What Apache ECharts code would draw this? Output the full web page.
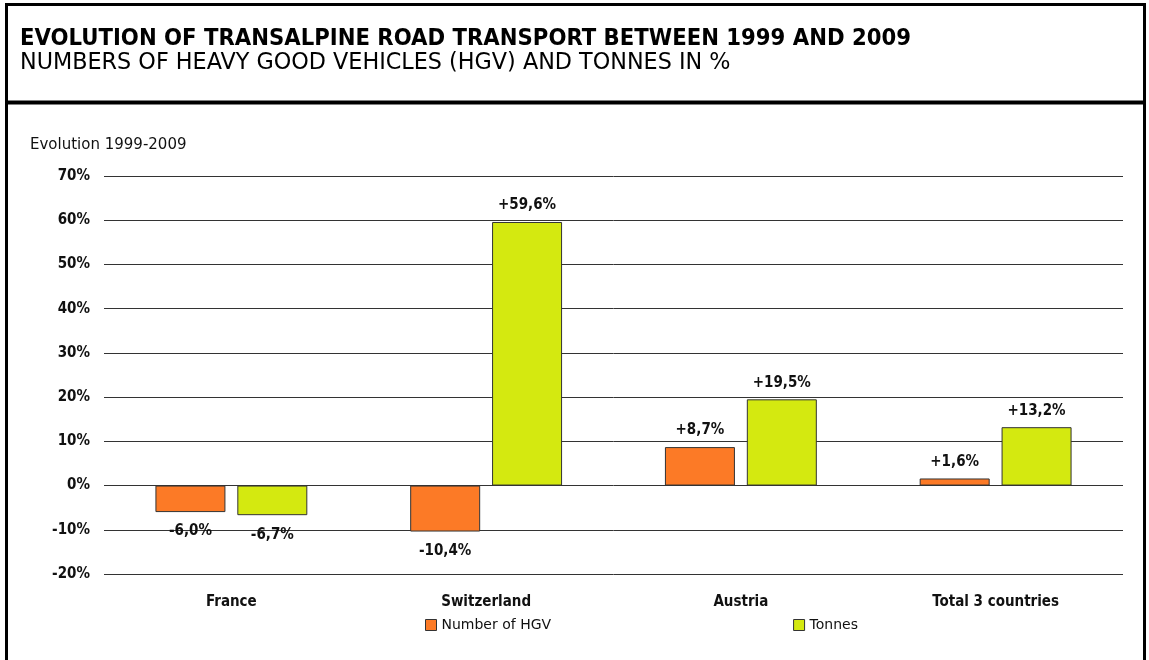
<!DOCTYPE html>
<html>
<head>
<meta charset="utf-8">
<script src="https://cdn.jsdelivr.net/npm/echarts@6/dist/echarts.min.js"></script>
<style>
html,body{margin:0;padding:0;background:#fff;}
#c{width:1149px;height:660px;}
</style>
</head>
<body>
<div id="c"></div>
<script>
const categories = ['France', 'Switzerland', 'Austria', 'Total 3 countries'];
const seriesNames = ['Number of HGV', 'Tonnes'];
const hgvValues = [-6.0, -10.4, 8.7, 1.6];
const tonnesValues = [-6.7, 59.6, 19.5, 13.2];
const yTicks = [-20, -10, 0, 10, 20, 30, 40, 50, 60, 70];

const BOLD = '"DejaVu Sans Condensed", "DejaVu Sans", sans-serif';
const REG = '"DejaVu Sans", sans-serif';
const colors = ['#FC7A26', '#D4E910'];

function fmt(v) {
  return (v > 0 ? '+' : '') + v.toFixed(1).replace('.', ',') + '%';
}
function toData(arr) {
  return arr.map(v => ({
    value: v,
    label: { position: v < 0 ? 'bottom' : 'top', distance: v < 0 ? 12 : 9 }
  }));
}

const chart = echarts.init(document.getElementById('c'), null, { renderer: 'canvas' });
const labelStyle = {
  show: true,
  fontFamily: BOLD,
  fontWeight: 'bold',
  fontSize: 15,
  color: '#111',
  formatter: p => fmt(p.value)
};
chart.setOption({
  animation: false,
  backgroundColor: '#fff',
  textStyle: { fontFamily: BOLD },
  title: {
    text: 'EVOLUTION OF TRANSALPINE ROAD TRANSPORT BETWEEN 1999 AND 2009',
    subtext: 'NUMBERS OF HEAVY GOOD VEHICLES (HGV) AND TONNES IN %',
    left: 15,
    top: 22,
    itemGap: 1,
    textStyle: { fontFamily: BOLD, fontWeight: 'bold', fontSize: 23.6, color: '#000' },
    subtextStyle: { fontFamily: REG, fontWeight: 'normal', fontSize: 22.3, color: '#000' }
  },
  graphic: [
    { type: 'rect', shape: { x: 6.5, y: 4.5, width: 1138, height: 700 }, style: { fill: 'none', stroke: '#000', lineWidth: 3 }, silent: true },
    { type: 'line', shape: { x1: 6.5, y1: 102.5, x2: 1144.5, y2: 102.5 }, style: { stroke: '#000', lineWidth: 4 }, silent: true },
    { type: 'text', left: 30, top: 138, style: { text: 'Evolution 1999-2009', font: '15px ' + REG, fill: '#111' } }
  ],
  legend: {
    data: seriesNames,
    bottom: 23,
    left: 420,
    itemWidth: 11,
    itemHeight: 11,
    itemGap: 242,
    icon: 'rect',
    textStyle: { fontFamily: REG, fontSize: 14, color: '#111' },
    itemStyle: { borderColor: '#333', borderWidth: 1 }
  },
  grid: { left: 104, right: 26, top: 176, bottom: 86, containLabel: false },
  xAxis: {
    type: 'category',
    data: categories,
    axisLine: { show: false },
    axisTick: { show: false },
    axisLabel: { fontFamily: BOLD, fontWeight: 'bold', fontSize: 15, color: '#111', margin: 21 }
  },
  yAxis: {
    type: 'value',
    min: -20,
    max: 70,
    interval: 10,
    axisLine: { show: false },
    axisTick: { show: false },
    splitLine: { lineStyle: { color: '#333', width: 1 } },
    axisLabel: {
      fontFamily: BOLD, fontWeight: 'bold', fontSize: 15, color: '#111', margin: 14,
      formatter: v => yTicks.includes(v) ? v + '%' : ''
    }
  },
  series: [
    {
      name: seriesNames[0], type: 'bar', data: toData(hgvValues),
      barWidth: 70, barGap: '17%',
      itemStyle: { color: colors[0], borderColor: '#333', borderWidth: 1 },
      label: labelStyle
    },
    {
      name: seriesNames[1], type: 'bar', data: toData(tonnesValues),
      barWidth: 70, barGap: '17%',
      itemStyle: { color: colors[1], borderColor: '#333', borderWidth: 1 },
      label: labelStyle
    }
  ]
});
</script>
</body>
</html>
